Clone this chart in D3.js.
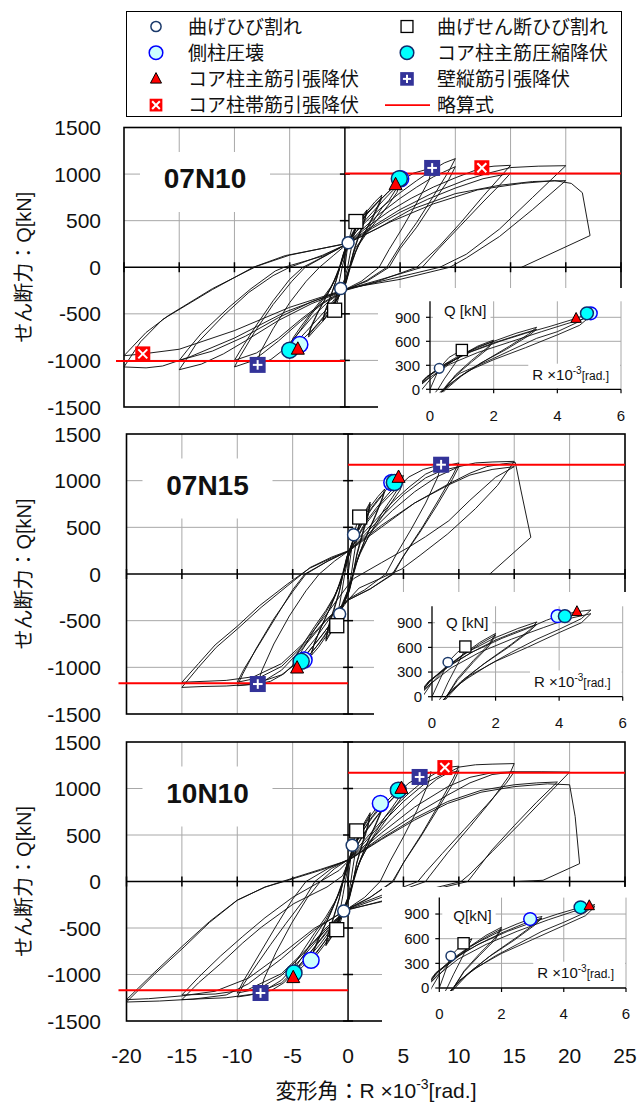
<!DOCTYPE html>
<html><head><meta charset="utf-8">
<script src="https://cdn.jsdelivr.net/npm/d3@7"></script>
<style>
body{margin:0;background:#fff;}
svg{display:block;}
</style></head>
<body><svg id="chart" width="641" height="1106"></svg>
<script>
// ---------------- data ----------------
const specimens = ["07N10", "07N15", "10N10"];
const xTicks = [-20, -15, -10, -5, 0, 5, 10, 15, 20, 25];
const yTicks = [-1500, -1000, -500, 0, 500, 1000, 1500];
const insetXTicks = [0, 2, 4, 6];
const insetYTicks = [0, 300, 600, 900];
const estimateQ = [1005, 1170, 1170];          // 略算式 [kN], ±
const insetCycleCount = [7, 7, 7];              // cycles shown in the inset (small amplitudes)

// Hysteresis cycles, [R ×10^-3 rad, Q kN]
const cycles07N10 = [
  [[0,0],[0.29,262],[0.6,400],[1.0,491],[1.1,505],[0.8,330],[0.45,130],[0.25,0],[0,-120],[-0.38,-229],[-0.65,-360],[-0.93,-461],[-1.05,-480],[-0.8,-320],[-0.45,-120],[-0.25,0],[0,120]],
  [[0,120],[0.4,270],[1,430],[1.5,540],[2,616],[1.8,520],[1.3,360],[0.8,180],[0.45,0],[0.1,-160],[-0.5,-300],[-1,-410],[-1.5,-510],[-2,-580],[-1.8,-480],[-1.3,-320],[-0.8,-150],[-0.45,0],[-0.1,150]],
  [[-0.1,150],[0.4,280],[1,420],[1.5,530],[2,600],[1.8,500],[1.3,340],[0.8,170],[0.45,0],[0.1,-150],[-0.5,-290],[-1,-400],[-1.5,-500],[-2,-570],[-1.8,-470],[-1.3,-310],[-0.8,-140],[-0.45,0],[-0.1,150]],
  [[-0.1,150],[0.4,300],[1,440],[2,600],[2.7,700],[3.35,775],[3.1,690],[2.5,540],[1.7,350],[1.0,170],[0.5,0],[0.1,-170],[-0.6,-330],[-1.3,-460],[-2,-580],[-2.7,-670],[-3.3,-750],[-3.1,-660],[-2.5,-500],[-1.7,-320],[-1,-150],[-0.5,0],[-0.1,160]],
  [[-0.1,160],[0.5,310],[1.2,460],[2,580],[2.7,670],[3.35,750],[3.1,670],[2.4,500],[1.6,330],[0.9,150],[0.45,0],[0.05,-170],[-0.6,-320],[-1.4,-460],[-2.2,-580],[-2.8,-660],[-3.3,-730],[-3.05,-630],[-2.4,-470],[-1.6,-300],[-0.9,-130],[-0.45,0],[-0.05,170]],
  [[-0.05,170],[0.5,320],[1.3,470],[2.2,600],[3,700],[3.8,790],[4.59,886],[5,950],[4.7,850],[4,720],[3.35,637],[2.5,480],[2,387],[1.4,280],[0.94,200],[0.6,90],[0.42,0],[0,-150],[-0.5,-280],[-1.3,-430],[-2.2,-570],[-3,-680],[-3.8,-770],[-4.3,-850],[-5,-890],[-4.7,-790],[-4,-670],[-3,-500],[-2,-350],[-1.3,-230],[-0.8,-110],[-0.45,0],[0,150]],
  [[0,150],[0.6,310],[1.5,460],[2.5,590],[3.5,720],[4.3,820],[5,900],[4.7,800],[4,680],[3,520],[2,370],[1.2,230],[0.7,90],[0.45,0],[0,-150],[-0.6,-290],[-1.5,-430],[-2.5,-560],[-3.5,-690],[-4.3,-790],[-5,-860],[-4.7,-760],[-4,-640],[-3,-480],[-2,-330],[-1.2,-200],[-0.7,-80],[-0.45,0],[0,160]],
  [[0,160],[0.3,260],[1,410],[2,570],[3,700],[4,820],[5,920],[6.2,1010],[7.9,1066],[7.6,930],[6.5,690],[5.2,420],[4,190],[3.1,0],[1.5,-150],[0,-240],[-1.5,-370],[-3,-540],[-4.3,-720],[-5.5,-880],[-6.7,-990],[-7.9,-1048],[-7.7,-920],[-6.5,-660],[-5,-380],[-3.5,-150],[-2.3,0],[-1,130],[0.2,250]],
  [[0.2,250],[1,380],[2,500],[3.5,660],[5,800],[6.5,930],[8,1050],[9,1120],[10,1166],[9.5,1050],[8,760],[6.5,480],[5,230],[3.8,0],[2,-140],[0,-250],[-2,-390],[-4,-580],[-6,-790],[-7.5,-930],[-8.5,-1010],[-10,-1070],[-9.5,-960],[-8.2,-700],[-6.5,-400],[-4.8,-150],[-3.6,0],[-1.5,140],[0.2,250]],
  [[0.2,250],[1.5,400],[3,560],[5,740],[6.5,860],[8,970],[10,1080],[9.4,940],[8,700],[6.5,430],[5,200],[4,0],[2,-150],[0,-240],[-2,-380],[-4,-560],[-6,-760],[-8,-920],[-10,-1000],[-9.4,-880],[-8,-620],[-6.5,-360],[-5,-130],[-3.8,0],[-1.5,140],[0.2,250]],
  [[0.2,250],[2,430],[4,600],[6,740],[8,860],[10,960],[12.4,1068],[13.5,1085],[15,1094],[14,960],[12.5,760],[10.5,480],[8.5,220],[6.5,0],[3,-150],[0,-250],[-3,-390],[-6,-570],[-9,-790],[-11,-930],[-13,-1040],[-15,-1100],[-14.2,-960],[-13.5,-830],[-11,-520],[-8.7,-270],[-6.5,-90],[-5,0],[-2,130],[0.2,250]],
  [[0.2,250],[2.5,420],[5,590],[7.5,730],[10,850],[12.5,950],[15,1010],[14,880],[12.5,700],[10.5,450],[8.5,200],[7,0],[3,-140],[0,-240],[-3,-370],[-6,-540],[-9,-740],[-12,-900],[-15,-1000],[-14.2,-880],[-13,-710],[-10.5,-430],[-8.5,-230],[-6.3,-40],[-5.5,0],[-2,120],[0.2,250]],
  [[0.2,250],[2,400],[5,620],[8,800],[11,940],[13,1010],[15,1070],[17.5,1085],[20,1090],[17,750],[14,410],[11,140],[8.6,0],[4,-130],[0.4,-230],[-2.5,-350],[-5.4,-480],[-10,-760],[-14,-960],[-16.5,-1060],[-18,-1080],[-20,-1070],[-18.5,-800],[-16.5,-560],[-12,-240],[-8.3,0],[-5.4,125],[0.2,254]],
  [[0.2,254],[3,420],[6,620],[10,790],[14,880],[17,920],[20,930],[17,620],[14,330],[11,100],[9.5,0],[5,-130],[0.5,-220],[-5,-430],[-10,-680],[-15,-880],[-18.3,-930],[-20,-950],[-18,-700],[-16,-520],[-12,-230],[-8,10],[-5,130],[0.3,260]],
  [[0.3,260],[4,480],[8,680],[12,830],[16,900],[19,930],[20.5,900],[21.5,800],[22.2,340],[16,0],[17,0]]
];

const cycles07N15 = [
  [[0,0],[0.5,420],[0.8,540],[1.05,610],[1.1,620],[0.85,430],[0.5,170],[0.3,0],[0,-170],[-0.4,-300],[-0.76,-429],[-1.02,-554],[-1.1,-570],[-0.85,-380],[-0.5,-150],[-0.3,0],[0,170]],
  [[0,170],[0.4,330],[1,520],[1.5,660],[2,770],[1.8,640],[1.3,440],[0.8,220],[0.45,0],[0.1,-180],[-0.5,-360],[-1,-500],[-1.5,-620],[-2,-720],[-1.8,-590],[-1.3,-400],[-0.8,-200],[-0.45,0],[-0.1,180]],
  [[-0.1,180],[0.4,340],[1,510],[1.5,640],[2,750],[1.8,620],[1.3,420],[0.8,200],[0.45,0],[0.1,-170],[-0.5,-350],[-1,-490],[-1.5,-610],[-2,-700],[-1.8,-570],[-1.3,-380],[-0.8,-190],[-0.45,0],[-0.1,180]],
  [[-0.1,180],[0.4,350],[1,520],[2,720],[2.7,830],[3.3,910],[3.1,820],[2.5,640],[1.7,420],[1,210],[0.5,0],[0.1,-190],[-0.6,-370],[-1.3,-530],[-2,-670],[-2.7,-790],[-3.3,-870],[-3.1,-770],[-2.5,-590],[-1.7,-380],[-1,-180],[-0.5,0],[-0.1,190]],
  [[-0.1,190],[0.5,360],[1.2,530],[2,690],[2.7,800],[3.3,880],[3.05,790],[2.4,600],[1.6,390],[0.9,180],[0.45,0],[0.05,-190],[-0.6,-360],[-1.4,-520],[-2.2,-670],[-2.8,-770],[-3.3,-840],[-3.05,-740],[-2.4,-560],[-1.6,-360],[-0.9,-160],[-0.45,0],[-0.05,190]],
  [[-0.05,190],[0.5,370],[1.3,550],[2.2,710],[3,830],[3.6,930],[3.95,980],[4.56,1035],[5,1055],[4.7,950],[4,820],[3.3,700],[2.5,540],[1.8,390],[1.1,220],[0.6,80],[0.45,0],[0,-180],[-0.5,-340],[-1.3,-520],[-2.2,-680],[-3,-800],[-3.6,-880],[-4.23,-950],[-4.6,-1008],[-5,-1030],[-4.7,-920],[-4,-790],[-3,-590],[-2,-410],[-1.3,-260],[-0.8,-120],[-0.45,0],[0,170]],
  [[0,170],[0.6,350],[1.5,540],[2.5,700],[3.5,840],[4.3,950],[5,1010],[4.7,900],[4,780],[3,600],[2,430],[1.2,260],[0.7,100],[0.45,0],[0,-170],[-0.6,-340],[-1.5,-520],[-2.5,-680],[-3.5,-820],[-4.3,-920],[-5,-980],[-4.7,-870],[-4,-740],[-3,-560],[-2,-390],[-1.2,-230],[-0.7,-90],[-0.45,0],[0,180]],
  [[0,180],[0.5,320],[1.5,520],[3,750],[4.5,930],[5.5,1040],[6.8,1120],[8.4,1171],[8.1,1040],[7,760],[5.7,480],[4.4,220],[3.4,0],[1.5,-170],[0,-270],[-1.5,-450],[-3,-700],[-4.5,-920],[-5.8,-1070],[-7,-1150],[-8.15,-1179],[-7.8,-1040],[-6.7,-750],[-5.3,-450],[-3.8,-180],[-2.6,0],[-1.2,140],[0.1,250]],
  [[0.1,250],[1,390],[2.5,580],[4,770],[5.5,930],[7,1070],[8.5,1150],[10,1190],[9.5,1070],[8.2,800],[6.7,500],[5.2,230],[4,0],[2,-160],[0,-280],[-2,-500],[-4,-780],[-6,-1030],[-7.5,-1140],[-8.8,-1185],[-10,-1197],[-9.5,-1070],[-8.3,-800],[-6.7,-480],[-5,-190],[-3.8,0],[-1.8,140],[0.1,250]],
  [[0.1,250],[1.5,420],[3,610],[5,850],[7,1030],[8.5,1110],[10,1150],[9.4,1010],[8,730],[6.5,450],[5,190],[4.1,0],[2,-160],[0,-280],[-2,-490],[-4,-760],[-6,-990],[-8,-1110],[-10,-1160],[-9.4,-1020],[-8,-750],[-6.4,-440],[-5,-170],[-3.9,0],[-1.8,140],[0.1,250]],
  [[0.1,250],[2,450],[4,680],[6,880],[8,1040],[10,1150],[11.5,1190],[13,1200],[15,1207],[13.5,950],[11.5,700],[9,430],[6.5,200],[4.8,50],[3.8,0],[1,-150],[0,-280],[-2,-600],[-4,-900],[-6,-1080],[-8.5,-1180],[-11,-1200],[-13,-1205],[-15,-1215],[-13.5,-1000],[-11.9,-786],[-10,-590],[-7.85,-358],[-5.5,-130],[-3.4,71],[-1.5,180],[0.05,250]],
  [[0.05,250],[3,520],[6,760],[9,950],[11,1060],[13,1120],[15,1150],[13.3,1035],[11,790],[9.1,571],[7,400],[5.45,285],[3,120],[0.5,-50],[0,-120],[-2,-440],[-4,-740],[-6,-960],[-8.5,-1100],[-11,-1140],[-15,-1160],[-13.5,-960],[-12,-760],[-10,-560],[-8,-340],[-5.5,-110],[-3.5,60],[-1.5,170],[0,240]],
  [[0,240],[3,500],[6,760],[9,960],[11,1080],[12.5,1150],[14,1180],[15.1,1195],[15.6,900],[16.5,393],[12.8,0]]
];

const cycles10N10 = [
  [[0,0],[0.37,389],[0.6,480],[0.78,544],[1.05,600],[0.8,420],[0.45,160],[0.25,0],[0,-170],[-0.39,-317],[-0.7,-440],[-1.02,-518],[-1.1,-540],[-0.8,-360],[-0.45,-140],[-0.25,0],[0,160]],
  [[0,160],[0.4,330],[1,510],[1.5,640],[2,740],[1.8,610],[1.3,420],[0.8,210],[0.45,0],[0.1,-180],[-0.5,-350],[-1,-490],[-1.5,-600],[-2,-690],[-1.8,-570],[-1.3,-390],[-0.8,-190],[-0.45,0],[-0.1,180]],
  [[-0.1,180],[0.4,320],[1,500],[1.5,620],[2,720],[1.8,590],[1.3,400],[0.8,200],[0.45,0],[0.1,-170],[-0.5,-340],[-1,-480],[-1.5,-590],[-2,-675],[-1.8,-560],[-1.3,-380],[-0.8,-180],[-0.45,0],[-0.1,180]],
  [[-0.1,180],[0.4,350],[1,510],[2,700],[2.5,780],[2.92,839],[3.3,870],[3.1,790],[2.5,620],[1.7,410],[1,200],[0.5,0],[0.1,-190],[-0.6,-370],[-1.3,-530],[-2,-660],[-2.7,-770],[-3.34,-847],[-3.1,-750],[-2.5,-580],[-1.7,-370],[-1,-170],[-0.5,0],[-0.1,190]],
  [[-0.1,190],[0.5,360],[1.2,520],[2,670],[2.7,780],[3.3,850],[3.05,760],[2.4,580],[1.6,380],[0.9,170],[0.45,0],[0.05,-190],[-0.6,-360],[-1.4,-520],[-2.2,-660],[-2.8,-760],[-3.3,-820],[-3.05,-720],[-2.4,-540],[-1.6,-350],[-0.9,-150],[-0.45,0],[-0.05,190]],
  [[-0.05,190],[0.5,370],[1.3,540],[2.2,690],[3,800],[3.8,900],[4.54,982],[5,1015],[4.7,920],[4,800],[3.3,690],[2.5,530],[1.8,390],[1.1,220],[0.6,80],[0.45,0],[0,-180],[-0.5,-340],[-1.3,-510],[-2.2,-660],[-3,-780],[-3.8,-880],[-4.4,-950],[-4.95,-1034],[-5.1,-1040],[-4.8,-930],[-4,-790],[-3,-590],[-2,-410],[-1.3,-260],[-0.8,-120],[-0.45,0],[0,170]],
  [[0,170],[0.6,350],[1.5,530],[2.5,690],[3.5,830],[4.3,930],[5,990],[4.7,880],[4,760],[3,590],[2,420],[1.2,250],[0.7,100],[0.45,0],[0,-170],[-0.6,-340],[-1.5,-510],[-2.5,-670],[-3.5,-810],[-4.3,-910],[-5,-970],[-4.7,-860],[-4,-730],[-3,-550],[-2,-380],[-1.2,-220],[-0.7,-90],[-0.45,0],[0,180]],
  [[0,180],[0.5,320],[1.5,520],[3,760],[4.5,950],[5.5,1060],[6.46,1124],[7.5,1180],[7.2,1040],[6.2,760],[5,480],[3.8,220],[2.9,0],[1.5,-170],[0,-290],[-1.5,-470],[-3,-700],[-4.5,-920],[-5.8,-1090],[-6.9,-1170],[-7.9,-1199],[-7.6,-1050],[-6.5,-760],[-5.1,-450],[-3.7,-180],[-2.5,0],[-1.2,140],[0.1,240]],
  [[0.1,240],[1,380],[2.5,580],[4,780],[5.5,950],[7,1100],[8.74,1225],[10,1240],[9.5,1110],[8.2,830],[6.7,520],[5.2,240],[4,0],[2,-170],[0,-300],[-2,-520],[-4,-800],[-6,-1060],[-7.5,-1170],[-8.8,-1220],[-10,-1242],[-9.4,-1100],[-8.6,-955],[-7,-680],[-5.6,-450],[-4,-200],[-3,0],[-1.5,140],[0.1,240]],
  [[0.1,240],[1.5,420],[3,620],[5,860],[7,1060],[8.5,1150],[10,1190],[9.4,1040],[8,760],[6.5,470],[5,200],[4.1,0],[2,-170],[0,-290],[-2,-500],[-4,-770],[-6,-1010],[-8,-1150],[-10,-1200],[-9.4,-1060],[-8,-780],[-6.4,-460],[-5,-190],[-3.8,0],[-1.8,140],[0.1,240]],
  [[0.1,240],[2,440],[4,680],[6,900],[8,1100],[10,1230],[11.5,1255],[13,1262],[15,1268],[14.5,1130],[13,880],[11,590],[9,310],[7.3,49],[7,0],[3.5,-150],[0,-300],[-2,-560],[-4,-850],[-6,-1090],[-8.5,-1210],[-11,-1250],[-13,-1260],[-15,-1270],[-13.5,-1090],[-11.5,-883],[-9.5,-660],[-7.8,-489],[-4.9,-238],[-1.9,-59],[-0.5,60],[0.1,230]],
  [[0.1,230],[3,520],[6,800],[9,1020],[11,1120],[13,1170],[15,1180],[14.3,1060],[12.5,820],[10.5,560],[8.5,300],[7,100],[6.3,0],[3,-150],[0,-290],[-3,-640],[-6,-990],[-9,-1160],[-12,-1210],[-15,-1220],[-13.5,-1030],[-11.5,-800],[-9.5,-590],[-7.5,-390],[-5,-170],[-2.5,0],[-0.8,120],[0.1,230]],
  [[0.1,230],[3,480],[6,720],[9,930],[11,1060],[13,1150],[15,1180],[17.5,1180],[20,1177],[18,930],[15.5,620],[13,320],[11,80],[10.2,0],[5,-150],[-0.4,-317],[-3,-520],[-6,-830],[-9,-1100],[-11,-1220],[-14,-1265],[-17,-1285],[-20,-1296],[-17.5,-1000],[-14.8,-704],[-12.5,-440],[-10,-202],[-7.5,-60],[-5.6,13],[-2.5,130],[0,228]],
  [[0,228],[3,460],[6,680],[9,860],[12,980],[15,1040],[17,1060],[18.9,1070],[17,850],[15,600],[13,340],[11.2,60],[10.8,0],[5.5,-150],[0,-300],[-3,-500],[-6,-780],[-9,-1040],[-12,-1180],[-15,-1230],[-18,-1260],[-20,-1270],[-17.5,-980],[-15,-700],[-12.5,-430],[-10,-200],[-7.5,-60],[-5.5,10],[-2.5,120],[0,225]],
  [[0,225],[3,450],[6,660],[9,840],[12,960],[15,1020],[18,1050],[20,1040],[20.5,700],[20.9,192],[17.6,13],[15.2,0],[16.8,0]]
];

// Damage events per specimen, [R, Q]
const flexCrack     = [[[0.29,262],[-0.38,-229]], [[0.5,420],[-0.76,-429]], [[0.37,389],[-0.39,-317]]];  // 曲げひび割れ
const shearCrack    = [[[1.0,491],[-0.93,-461]], [[1.05,610],[-1.02,-554]], [[0.78,544],[-1.02,-518]]]; // 曲げせん断ひび割れ
const sideCrush     = [[[5.05,950],[-4.08,-830]], [[3.95,980],[-3.97,-922]], [[2.92,839],[-3.34,-847]]]; // 側柱圧壊
const coreCompYield = [[[4.93,950],[-5.0,-890]], [[4.18,980],[-4.23,-936]], [[4.54,982],[-4.88,-984]]];  // コア柱主筋圧縮降伏
const coreTenYield  = [[[4.59,886],[-4.26,-880]], [[4.56,1035],[-4.6,-1008]], [[4.82,1001],[-4.95,-1034]]]; // コア柱主筋引張降伏
const wallVertYield = [[[7.9,1066],[-7.9,-1048]], [[8.4,1171],[-8.15,-1179]], [[6.46,1124],[-7.9,-1199]]]; // 壁縦筋引張降伏
const hoopYield     = [[[12.4,1068],[-18.3,-930]], [], [[8.74,1225]]];                                 // コア柱帯筋引張降伏

const legendLabels = ["曲げひび割れ", "曲げせん断ひび割れ", "側柱圧壊", "コア柱主筋圧縮降伏",
                      "コア柱主筋引張降伏", "壁縦筋引張降伏", "コア柱帯筋引張降伏", "略算式"];

// ---------------- drawing ----------------
const W = 641, H = 1106;
const LATIN = "'Liberation Sans', Arial, 'Noto Sans CJK JP', sans-serif";
const JP = "'Noto Sans CJK JP', 'Liberation Sans', sans-serif";
const GRID = "#a8a8a8";

const svg = d3.select("#chart");
svg.append("rect").attr("width", W).attr("height", H).attr("fill", "#fff");

const markerStyles = [
  {data: flexCrack,     shape: "circle",   fill: "#ffffff", stroke: "#1b3a6b", size: 6},
  {data: shearCrack,    shape: "square",   fill: "#ffffff", stroke: "#000000", size: 14},
  {data: sideCrush,     shape: "circle",   fill: "#ccffff", stroke: "#0000ff", size: 8},
  {data: coreCompYield, shape: "circle",   fill: "#00ffff", stroke: "#0d2b6e", size: 8},
  {data: coreTenYield,  shape: "triangle", fill: "#ff0000", stroke: "#000000", size: 13},
  {data: wallVertYield, shape: "plus",     fill: "#333399", stroke: "none",    size: 16},
  {data: hoopYield,     shape: "cross",    fill: "#ff0000", stroke: "none",    size: 15}
];

function drawMarker(g, st, cx, cy, k) {
  const s = st.size * k;
  if (st.shape === "circle") {
    g.append("circle").attr("cx", cx).attr("cy", cy).attr("r", s)
      .attr("fill", st.fill).attr("stroke", st.stroke).attr("stroke-width", 1.5);
  } else if (st.shape === "square") {
    g.append("rect").attr("x", cx - s / 2).attr("y", cy - s / 2).attr("width", s).attr("height", s)
      .attr("fill", st.fill).attr("stroke", st.stroke).attr("stroke-width", 1.3);
  } else if (st.shape === "triangle") {
    const h = s * 0.95;
    g.append("path").attr("d", `M${cx},${cy - h * 0.6}L${cx + s / 2},${cy + h * 0.4}L${cx - s / 2},${cy + h * 0.4}Z`)
      .attr("fill", st.fill).attr("stroke", st.stroke).attr("stroke-width", 1);
  } else {
    g.append("rect").attr("x", cx - s / 2).attr("y", cy - s / 2).attr("width", s).attr("height", s)
      .attr("fill", st.fill);
    const a = s * 0.3;
    const segs = st.shape === "plus"
      ? [[cx - a, cy, cx + a, cy], [cx, cy - a, cx, cy + a]]
      : [[cx - a, cy - a, cx + a, cy + a], [cx - a, cy + a, cx + a, cy - a]];
    segs.forEach(q => g.append("line").attr("x1", q[0]).attr("y1", q[1]).attr("x2", q[2]).attr("y2", q[3])
      .attr("stroke", "#fff").attr("stroke-width", 2));
  }
}

// ---- legend ----
const leg = svg.append("g");
leg.append("rect").attr("x", 126.5).attr("y", 11.5).attr("width", 495).attr("height", 105)
  .attr("fill", "#fff").attr("stroke", "#000").attr("stroke-width", 1);
legendLabels.forEach((lab, i) => {
  const col = i % 2, row = Math.floor(i / 2);
  const cy = 26.5 + row * 26.2;
  const sx = col ? 407 : 156, tx = col ? 437 : 188;
  if (i < markerStyles.length) {
    drawMarker(leg, markerStyles[i], sx, cy, 0.85);
  } else {
    leg.append("line").attr("x1", 385).attr("x2", 430).attr("y1", cy).attr("y2", cy)
      .attr("stroke", "#ff0000").attr("stroke-width", 1.6);
  }
  leg.append("text").attr("x", tx).attr("y", cy + 7).attr("font-family", JP).attr("font-size", 19)
    .attr("fill", "#111").text(lab);
});

// ---- panels ----
const panels = [
  {left: 124, right: 621, top: 127.5, bottom: 407,
   inset: {x0: 430, x1: 621, y0: 389.3, h: 88, box: [378, 288, 641, 426], qLab: 979}},
  {left: 126.5, right: 625, top: 434, bottom: 714,
   inset: {x0: 432, x1: 622.7, y0: 696.7, h: 90.4, box: [374, 592, 641, 733], qLab: 905}},
  {left: 126.5, right: 625, top: 742, bottom: 1021,
   inset: {x0: 439.3, x1: 626, y0: 988, h: 90.4, box: [382, 887, 641, 1032], qLab: 880}}
];
const cycleSets = [cycles07N10, cycles07N15, cycles10N10];

function flatten(cycles) {
  return cycles.flatMap((c, i) => i ? c.slice(1) : c);
}

panels.forEach((p, pi) => {
  const x = d3.scaleLinear().domain([-20, 25]).range([p.left, p.right]);
  const y = d3.scaleLinear().domain([-1500, 1500]).range([p.bottom, p.top]);
  const g = svg.append("g");

  // grid
  g.selectAll(null).data(xTicks.filter(t => t > -20 && t < 25 && t !== 0)).join("line")
    .attr("x1", d => x(d)).attr("x2", d => x(d)).attr("y1", p.top).attr("y2", p.bottom)
    .attr("stroke", GRID).attr("stroke-width", 1);
  g.selectAll(null).data(yTicks.filter(t => t > -1500 && t < 1500 && t !== 0)).join("line")
    .attr("x1", p.left).attr("x2", p.right).attr("y1", d => y(d)).attr("y2", d => y(d))
    .attr("stroke", GRID).attr("stroke-width", 1);

  // zero axes with cross ticks
  g.append("line").attr("x1", x(0)).attr("x2", x(0)).attr("y1", p.top).attr("y2", p.bottom)
    .attr("stroke", "#000").attr("stroke-width", 1.5);
  g.append("line").attr("x1", p.left).attr("x2", p.right).attr("y1", y(0)).attr("y2", y(0))
    .attr("stroke", "#000").attr("stroke-width", 1.5);
  g.selectAll(null).data(yTicks).join("line")
    .attr("x1", x(0) - 5).attr("x2", x(0) + 5).attr("y1", d => y(d)).attr("y2", d => y(d))
    .attr("stroke", "#000").attr("stroke-width", 1.5);
  g.selectAll(null).data(xTicks).join("line")
    .attr("x1", d => x(d)).attr("x2", d => x(d)).attr("y1", y(0) - 5).attr("y2", y(0) + 5)
    .attr("stroke", "#000").attr("stroke-width", 1.5);

  // border
  g.append("rect").attr("x", p.left).attr("y", p.top).attr("width", p.right - p.left)
    .attr("height", p.bottom - p.top).attr("fill", "none").attr("stroke", "#000").attr("stroke-width", 1.6);

  // y tick labels
  g.selectAll(null).data(yTicks).join("text")
    .attr("x", 101).attr("y", d => y(d)).attr("dy", "0.36em").attr("text-anchor", "end")
    .attr("font-family", LATIN).attr("font-size", 21).attr("fill", "#111").text(d => d);

  // y axis title
  g.append("text").attr("transform", `translate(31,${y(0)}) rotate(-90)`).attr("text-anchor", "middle")
    .attr("font-family", LATIN).attr("font-size", 20).attr("fill", "#111").text("せん断力：Q[kN]");

  // hysteresis curve
  const line = d3.line().x(d => x(d[0])).y(d => y(d[1]));
  g.append("path").attr("d", line(flatten(cycleSets[pi]))).attr("fill", "none")
    .attr("stroke", "#111").attr("stroke-width", 0.95).attr("stroke-linejoin", "round");

  // estimate lines
  const q = estimateQ[pi];
  g.append("line").attr("x1", x(0)).attr("x2", p.right).attr("y1", y(q)).attr("y2", y(q))
    .attr("stroke", "#ff0000").attr("stroke-width", 2);
  g.append("line").attr("x1", p.left - 8).attr("x2", x(0)).attr("y1", y(-q)).attr("y2", y(-q))
    .attr("stroke", "#ff0000").attr("stroke-width", 2);

  // event markers
  markerStyles.forEach(st => st.data[pi].forEach(d => drawMarker(g, st, x(d[0]), y(d[1]), 1)));

  // specimen label
  g.append("rect").attr("x", p.left + 16).attr("y", p.top + 24.5).attr("width", 130).attr("height", 60).attr("fill", "#fff");
  g.append("text").attr("x", p.left + 81).attr("y", p.top + 60.5).attr("text-anchor", "middle")
    .attr("font-family", LATIN).attr("font-weight", "bold").attr("font-size", 28).attr("fill", "#111")
    .text(specimens[pi]);

  // ---- inset: positive quadrant, small cycles ----
  const ins = p.inset;
  const ix = d3.scaleLinear().domain([0, 6]).range([ins.x0, ins.x1]);
  const iy = d3.scaleLinear().domain([0, 1100]).range([ins.y0, ins.y0 - ins.h]);
  const gi = svg.append("g");
  gi.append("rect").attr("x", ins.box[0]).attr("y", ins.box[1]).attr("width", ins.box[2] - ins.box[0])
    .attr("height", ins.box[3] - ins.box[1]).attr("fill", "#fff");
  gi.selectAll(null).data(insetXTicks.filter(t => t > 0)).join("line")
    .attr("x1", d => ix(d)).attr("x2", d => ix(d)).attr("y1", iy(0)).attr("y2", iy(1100))
    .attr("stroke", GRID).attr("stroke-width", 1);
  gi.selectAll(null).data(insetYTicks.filter(t => t > 0)).join("line")
    .attr("x1", ix(0)).attr("x2", ix(6)).attr("y1", d => iy(d)).attr("y2", d => iy(d))
    .attr("stroke", GRID).attr("stroke-width", 1);

  const clipId = "inclip" + pi;
  svg.append("clipPath").attr("id", clipId).append("rect")
    .attr("x", ix(0) - 8).attr("y", iy(1100)).attr("width", ix(6) - ix(0) + 8).attr("height", iy(0) - iy(1100) + 3);

  // label boxes (drawn before curves so the curves stay visible)
  const qt = gi.append("text").attr("x", ix(0) + 14).attr("y", iy(ins.qLab)).attr("dy", "0.36em")
    .attr("font-family", LATIN).attr("font-size", 15).attr("fill", "#111").text(pi === 2 ? "Q[kN]" : "Q [kN]");
  const qb = qt.node().getBBox();
  gi.insert("rect", () => qt.node()).attr("x", ix(0) + 3).attr("y", qb.y - 2).attr("width", qb.x + qb.width + 4 - ix(0) - 3)
    .attr("height", qb.height + 4).attr("fill", "#fff");

  const rt = gi.append("text").attr("x", ix(6) - 12).attr("y", iy(190)).attr("dy", "0.36em")
    .attr("text-anchor", "end").attr("font-family", LATIN).attr("fill", "#111");
  rt.append("tspan").attr("font-size", 15).text("R ×10");
  rt.append("tspan").attr("font-size", 10).attr("dy", -6).text("-3");
  rt.append("tspan").attr("font-size", 12).attr("dy", 6).text("[rad.]");
  const rb = rt.node().getBBox();
  gi.insert("rect", () => rt.node()).attr("x", rb.x - 4).attr("y", iy(320))
    .attr("width", ix(6) - rb.x + 3).attr("height", iy(0) - iy(320) - 1).attr("fill", "#fff");

  // axes
  gi.append("line").attr("x1", ix(0)).attr("x2", ix(0)).attr("y1", iy(0)).attr("y2", iy(1100))
    .attr("stroke", "#000").attr("stroke-width", 1.3);
  gi.append("line").attr("x1", ix(0)).attr("x2", ix(6)).attr("y1", iy(0)).attr("y2", iy(0))
    .attr("stroke", "#000").attr("stroke-width", 1.3);
  gi.selectAll(null).data(insetYTicks).join("line")
    .attr("x1", ix(0) - 4).attr("x2", ix(0)).attr("y1", d => iy(d)).attr("y2", d => iy(d))
    .attr("stroke", "#000").attr("stroke-width", 1.2);
  gi.selectAll(null).data(insetXTicks).join("line")
    .attr("x1", d => ix(d)).attr("x2", d => ix(d)).attr("y1", iy(0)).attr("y2", iy(0) + 4)
    .attr("stroke", "#000").attr("stroke-width", 1.2);
  gi.selectAll(null).data(insetYTicks).join("text")
    .attr("x", ix(0) - 10).attr("y", d => iy(d)).attr("dy", "0.36em").attr("text-anchor", "end")
    .attr("font-family", LATIN).attr("font-size", 15).attr("fill", "#111").text(d => d);
  gi.selectAll(null).data(insetXTicks).join("text")
    .attr("x", d => ix(d)).attr("y", iy(0) + 26).attr("dy", "0.36em").attr("text-anchor", "middle")
    .attr("font-family", LATIN).attr("font-size", 15).attr("fill", "#111").text(d => d);

  const iline = d3.line().x(d => ix(d[0])).y(d => iy(d[1]));
  gi.append("path").attr("clip-path", `url(#${clipId})`)
    .attr("d", iline(flatten(cycleSets[pi].slice(0, insetCycleCount[pi]))))
    .attr("fill", "none").attr("stroke", "#111").attr("stroke-width", 0.9).attr("stroke-linejoin", "round");

  const insetStyles = markerStyles.slice(0, 5);
  insetStyles.forEach(st => st.data[pi].filter(d => d[0] >= 0 && d[0] <= 6 && d[1] >= 0)
    .forEach(d => drawMarker(gi, st, ix(d[0]), iy(d[1]), 0.8)));

  // x tick labels under the bottom panel
  if (pi === panels.length - 1) {
    g.selectAll(null).data(xTicks).join("text")
      .attr("x", d => x(d)).attr("y", 1055).attr("dy", "0.36em").attr("text-anchor", "middle")
      .attr("font-family", LATIN).attr("font-size", 21).attr("fill", "#111").text(d => d);
  }
});

// x axis title
const xt = svg.append("text").attr("x", 376).attr("y", 1098).attr("text-anchor", "middle")
  .attr("font-family", LATIN).attr("fill", "#111");
xt.append("tspan").attr("font-size", 21).text("変形角：R ×10");
xt.append("tspan").attr("font-size", 14).attr("dy", -9).text("-3");
xt.append("tspan").attr("font-size", 21).attr("dy", 9).text("[rad.]");
</script>
</body></html>
